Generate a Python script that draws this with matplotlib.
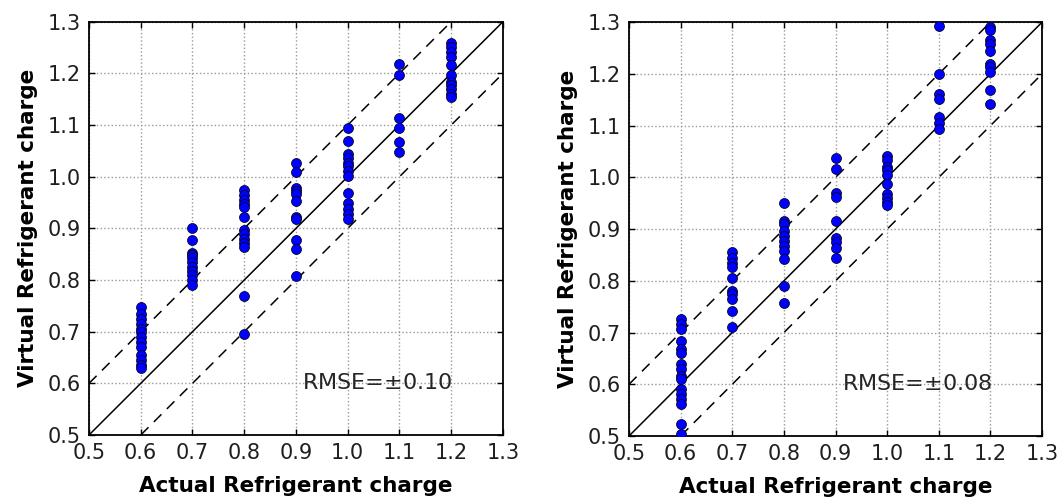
import numpy as np
import matplotlib.pyplot as plt

# virtual charge estimates grouped by actual charge level
levels = [0.6, 0.7, 0.8, 0.9, 1.0, 1.1, 1.2]

virtual_a = [
    [0.748, 0.735, 0.725, 0.715, 0.705, 0.700, 0.690, 0.680, 0.670, 0.655, 0.645, 0.635, 0.630],
    [0.900, 0.878, 0.852, 0.848, 0.842, 0.835, 0.826, 0.818, 0.810, 0.800, 0.790],
    [0.975, 0.964, 0.954, 0.948, 0.941, 0.922, 0.896, 0.890, 0.880, 0.871, 0.864, 0.770, 0.695],
    [1.027, 1.009, 0.979, 0.972, 0.966, 0.953, 0.922, 0.918, 0.878, 0.860, 0.808],
    [1.095, 1.070, 1.044, 1.037, 1.027, 1.020, 1.011, 1.001, 0.969, 0.950, 0.937, 0.928, 0.918],
    [1.219, 1.196, 1.113, 1.094, 1.067, 1.048],
    [1.258, 1.252, 1.242, 1.232, 1.216, 1.197, 1.184, 1.177, 1.170, 1.161, 1.154],
]

virtual_b = [
    [0.726, 0.716, 0.706, 0.684, 0.668, 0.661, 0.639, 0.629, 0.616, 0.610, 0.590, 0.581,
     0.571, 0.561, 0.523, 0.503],
    [0.855, 0.845, 0.835, 0.826, 0.806, 0.781, 0.774, 0.765, 0.742, 0.710],
    [0.950, 0.916, 0.910, 0.897, 0.887, 0.877, 0.868, 0.858, 0.842, 0.790, 0.758],
    [1.038, 1.017, 0.969, 0.963, 0.916, 0.883, 0.876, 0.864, 0.845],
    [1.042, 1.033, 1.021, 1.014, 1.004, 0.988, 0.967, 0.960, 0.953, 0.947],
    [1.292, 1.199, 1.161, 1.152, 1.116, 1.106, 1.094],
    [1.290, 1.284, 1.265, 1.258, 1.245, 1.219, 1.213, 1.203, 1.168, 1.141],
]

rmse_labels = [r'RMSE=$\pm$0.10', r'RMSE=$\pm$0.08']
ticks = [0.5, 0.6, 0.7, 0.8, 0.9, 1.0, 1.1, 1.2, 1.3]
band = 0.1

plt.rcParams['font.family'] = 'DejaVu Sans'

fig = plt.figure(figsize=(10.62, 4.98), dpi=100)
ax_a = fig.add_axes([0.0838, 0.1265, 0.3898, 0.8299])
ax_b = fig.add_axes([0.5923, 0.1245, 0.3889, 0.8309])


def draw_panel(ax, groups, label):
    ref = np.array([ticks[0], ticks[-1]])
    ax.plot(ref, ref, color='k', lw=1.1, zorder=2)
    ax.plot(ref, ref + band, color='k', lw=1.1, dashes=(7, 5), zorder=2)
    ax.plot(ref, ref - band, color='k', lw=1.1, dashes=(7, 5), zorder=2)
    for lvl, vals in zip(levels, groups):
        ax.plot([lvl] * len(vals), vals, 'o', color='b', mec='k', mew=0.5,
                ms=7.2, zorder=3)
    ax.set_xlim(ticks[0], ticks[-1])
    ax.set_ylim(ticks[0], ticks[-1])
    ax.set_xticks(ticks)
    ax.set_yticks(ticks)
    ax.grid(True, color='0.6', linestyle=':', linewidth=1.0)
    ax.set_axisbelow(True)
    ax.tick_params(direction='in', top=True, right=True, labelsize=15,
                   labelcolor='0.12', length=4, width=1, pad=6)
    for sp in ax.spines.values():
        sp.set_linewidth(1.3)
    ax.set_xlabel('Actual Refrigerant charge', fontsize=15.5, fontweight='bold',
                  labelpad=9)
    ax.set_ylabel('Virtual Refrigerant charge', fontsize=15.5, fontweight='bold',
                  labelpad=7)
    ax.text(0.912, 0.6, label, fontsize=16, va='center', ha='left', color='0.15')


draw_panel(ax_a, virtual_a, rmse_labels[0])
draw_panel(ax_b, virtual_b, rmse_labels[1])

fig.savefig('out.png', dpi=100)
